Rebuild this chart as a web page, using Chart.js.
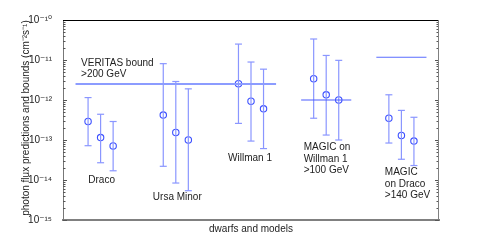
<!DOCTYPE html>
<html>
<head>
<meta charset="utf-8">
<script src="https://cdn.jsdelivr.net/npm/chart.js@4.4.1/dist/chart.umd.min.js"></script>
<style>
  html, body { margin: 0; padding: 0; background: #fff; }
  #wrap { width: 485px; height: 249px; }
</style>
</head>
<body>
<div id="wrap"><canvas id="fluxChart"></canvas></div>
<script>
// dwarfs along the x axis, three model predictions for each
const dwarfs = ['Draco', 'Ursa Minor', 'Willman 1', 'MAGIC on Willman 1', 'MAGIC on Draco'];
// photon flux, cm^-2 s^-1
const fluxCentral = [
  [2.9e-13, 1.15e-13, 7.1e-14],
  [4.2e-13, 1.55e-13, 1.0e-13],
  [2.55e-12, 9.3e-13, 6.0e-13],
  [3.4e-12, 1.35e-12, 1.0e-12],
  [3.5e-13, 1.3e-13, 9.4e-14]
];
const fluxLow = [
  [7.2e-14, 2.7e-14, 1.7e-14],
  [2.2e-14, 8.4e-15, 5.4e-15],
  [2.6e-13, 9.4e-14, 6.1e-14],
  [3.5e-13, 1.33e-13, 1.0e-13],
  [8.4e-14, 3.3e-14, 2.3e-14]
];
const fluxHigh = [
  [1.15e-12, 4.4e-13, 2.9e-13],
  [8.1e-12, 2.9e-12, 1.9e-12],
  [2.5e-11, 8.9e-12, 5.9e-12],
  [3.35e-11, 1.3e-11, 9.8e-12],
  [1.35e-12, 5.5e-13, 3.7e-13]
];
// experimental bounds and the dwarfs they span
const boundNames = ['VERITAS', 'MAGIC Willman 1', 'MAGIC Draco'];
const boundValues = [2.5e-12, 1.0e-12, 1.17e-11];
const boundFirst = [0, 3, 4];
const boundLast = [2, 3, 4];
const boundColors = ['#8c9cff', '#4a5cff', '#5a6cff'];
// y axis decades
const yDecades = [-15, -14, -13, -12, -11, -10];

const supMap = {'-': '\u207B', '0': '\u2070', '1': '\u00B9', '2': '\u00B2', '3': '\u00B3',
  '4': '\u2074', '5': '\u2075', '6': '\u2076', '7': '\u2077', '8': '\u2078', '9': '\u2079'};
function sup(n) {
    return String(n).split('').map(c => supMap[c]).join('');
}

const yTitle = 'photon flux predictions and bounds (cm' + sup(-2) + 's' + sup(-1) + ')';

const modelStep = 1 / 6;
function xOf(group, model) {
    return group + 0.5 + (model - 1) * modelStep;
}

Chart.defaults.font.family = '"Liberation Sans", Arial, "DejaVu Sans", sans-serif';
Chart.defaults.font.size = 10;
Chart.defaults.color = '#222';

const datasets = [];

// bounds
boundValues.forEach((v, i) => {
    datasets.push({
        label: boundNames[i],
        data: [{x: boundFirst[i] + modelStep, y: v}, {x: boundLast[i] + 1 - modelStep, y: v}],
        showLine: true,
        borderColor: boundColors[i],
        borderWidth: i === 0 ? 2 : 1.1,
        pointRadius: 0
    });
});

// error bars
dwarfs.forEach((d, g) => {
    for (let m = 0; m < 3; m++) {
        datasets.push({
            label: d + ' range ' + (m + 1),
            data: [{x: xOf(g, m), y: fluxLow[g][m]}, {x: xOf(g, m), y: fluxHigh[g][m]}],
            showLine: true,
            borderColor: '#8a96ff',
            borderWidth: 1.2,
            pointStyle: 'line',
            pointRadius: 3.5,
            pointBorderColor: '#8a96ff',
            pointBorderWidth: 1.2
        });
    }
});

// central predictions
const centralPoints = [];
dwarfs.forEach((d, g) => {
    for (let m = 0; m < 3; m++) {
        centralPoints.push({x: xOf(g, m), y: fluxCentral[g][m]});
    }
});
datasets.push({
    label: 'predictions',
    data: centralPoints,
    pointStyle: 'circle',
    pointRadius: 3.2,
    pointBorderColor: '#3c50ff',
    pointBackgroundColor: 'rgba(255,255,255,0)',
    pointBorderWidth: 1.1
});

// text notes placed in data coordinates
const notes = [
    {x: 0.24, y: 8.4e-12, align: 'left', lines: ['VERITAS bound', '>200 GeV']},
    {x: 0.514, y: 1.0e-14, align: 'center', lines: ['Draco']},
    {x: 1.52, y: 3.76e-15, align: 'center', lines: ['Ursa Minor']},
    {x: 2.487, y: 3.4e-14, align: 'center', lines: ['Willman 1']},
    {x: 3.2, y: 6.5e-14, align: 'left', lines: ['MAGIC on', 'Willman 1', '>100 GeV']},
    {x: 4.28, y: 1.55e-14, align: 'left', lines: ['MAGIC', 'on Draco', '>140 GeV']}
];

const framePlugin = {
    id: 'frame',
    afterDraw(chart) {
        const ctx = chart.ctx;
        const a = chart.chartArea;
        const ys = chart.scales.y;
        const xs = chart.scales.x;
        ctx.save();
        // inward ticks, left and right
        ctx.strokeStyle = '#555';
        ctx.lineWidth = 1;
        ys.ticks.forEach(t => {
            const p = Math.round(ys.getPixelForValue(t.value)) + 0.5;
            const lg = Math.log10(t.value);
            const len = Math.abs(lg - Math.round(lg)) < 1e-6 ? 4 : 2.5;
            ctx.beginPath();
            ctx.moveTo(a.left, p);
            ctx.lineTo(a.left + len, p);
            ctx.moveTo(a.right, p);
            ctx.lineTo(a.right - len, p);
            ctx.stroke();
        });
        // top and right edges
        ctx.strokeStyle = '#000';
        ctx.beginPath();
        ctx.moveTo(a.left, a.top + 0.5);
        ctx.lineTo(a.right, a.top + 0.5);
        ctx.stroke();
        ctx.strokeStyle = '#808080';
        ctx.beginPath();
        ctx.moveTo(a.right - 0.5, a.top);
        ctx.lineTo(a.right - 0.5, a.bottom);
        ctx.stroke();
        // notes
        ctx.fillStyle = '#222';
        ctx.font = '10px "Liberation Sans", Arial, sans-serif';
        ctx.textBaseline = 'middle';
        notes.forEach(n => {
            const px = xs.getPixelForValue(n.x);
            const py = ys.getPixelForValue(n.y);
            ctx.textAlign = n.align;
            n.lines.forEach((line, i) => {
                ctx.fillText(line, px, py + i * 11.5);
            });
        });
        // y axis title
        ctx.translate(26, (a.top + a.bottom) / 2 - 2);
        ctx.rotate(-Math.PI / 2);
        ctx.textAlign = 'center';
        ctx.fillText(yTitle, 0, 0);
        ctx.restore();
    }
};

const fluxChart = new Chart(document.getElementById('fluxChart'), {
    type: 'scatter',
    data: { datasets: datasets },
    plugins: [framePlugin],
    options: {
        animation: false,
        responsive: true,
        maintainAspectRatio: false,
        layout: { padding: { top: 20, right: 46, bottom: 0, left: 0 } },
        plugins: {
            legend: { display: false },
            tooltip: { enabled: false }
        },
        scales: {
            x: {
                type: 'linear',
                min: 0,
                max: dwarfs.length,
                ticks: { display: false },
                grid: { display: false },
                border: { display: true, color: '#808080', width: 2 },
                title: { display: true, text: 'dwarfs and models', padding: { top: 0, bottom: 14 }, font: { size: 10 } },
                afterFit(scale) { scale.height = 29; }
            },
            y: {
                type: 'logarithmic',
                min: Math.pow(10, yDecades[0]),
                max: Math.pow(10, yDecades[yDecades.length - 1]),
                afterBuildTicks(scale) {
                    const ticks = [];
                    yDecades.forEach((d, i) => {
                        ticks.push({ value: Math.pow(10, d) });
                        if (i < yDecades.length - 1) {
                            for (let k = 2; k <= 9; k++) ticks.push({ value: k * Math.pow(10, d) });
                        }
                    });
                    scale.ticks = ticks;
                },
                ticks: {
                    autoSkip: false,
                    padding: 3,
                    font: { size: 10 },
                    callback(value) {
                        const lg = Math.log10(value);
                        if (Math.abs(lg - Math.round(lg)) > 1e-6) return '';
                        return '10' + sup(Math.round(lg));
                    }
                },
                grid: { display: false },
                border: { display: true, color: '#777', width: 1 },
                title: { display: false },
                afterFit(scale) { scale.width = 63; }
            }
        }
    }
});
</script>
</body>
</html>
